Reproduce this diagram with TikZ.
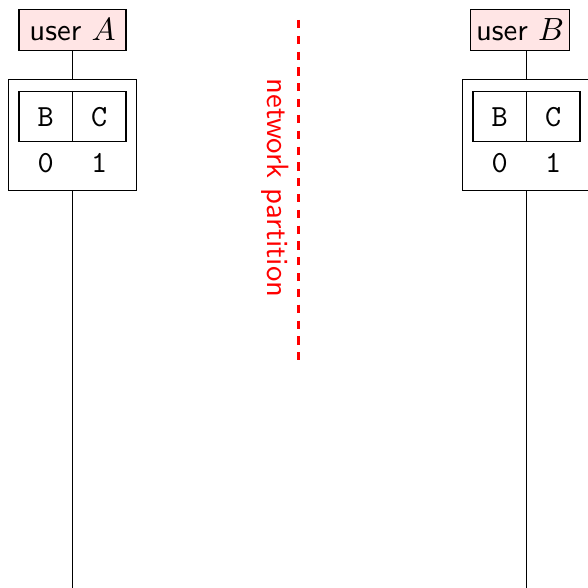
\documentclass[tikz,border=0pt]{standalone}
\usepackage{tikz}
\usetikzlibrary{positioning}

\begin{document}
\begin{tikzpicture}[
        user/.style={rectangle, draw, fill=red!10, font=\fontsize{10.5}{12.6}\sffamily, minimum height=0.49cm, inner sep=2pt},
        store/.style={rectangle, draw, minimum width=1.54cm, minimum height=1.33cm},
        cell/.style={rectangle, draw, outer sep=0pt, minimum width=0.642cm, minimum height=0.6cm, font=\fontsize{10.5}{12.6}\ttfamily},
        val/.style={font=\fontsize{10.5}{12.6}\ttfamily},
        cut/.style={red, line width=1pt, dash pattern=on 2.8pt off 2.6pt}
    ]
        \useasboundingbox (0,0) rectangle (7.056,-7.056);

        % User A
        \node[user, minimum width=1.284cm] (userA) at (0.87,-0.36) {user $A$};
        \node[store] (storeA) at (0.87,-1.624) {};
        \node[cell] (cellAB) at (0.549,-1.4) {B};
        \node[cell, right=0pt of cellAB] (cellAC) {C};
        \node[val] (valAB) at (0.549,-1.956) {0};
        \node[val] (valAC) at (1.191,-1.956) {1};
        \coordinate (endA) at (0.87,-7.056);
        \draw (userA) -- (storeA);
        \draw (storeA) -- (endA);

        % User B
        \node[user, minimum width=1.183cm] (userB) at (6.24,-0.36) {user $B$};
        \node[store] (storeB) at (6.318,-1.624) {};
        \node[cell] (cellBB) at (5.997,-1.4) {B};
        \node[cell, right=0pt of cellBB] (cellBC) {C};
        \node[val] (valBB) at (5.997,-1.956) {0};
        \node[val] (valBC) at (6.639,-1.956) {1};
        \coordinate (endB) at (6.318,-7.056);
        \draw (userB.south -| storeB.north) -- (storeB.north);
        \draw (storeB) -- (endB);

        % Network partition
        \coordinate (cutTop) at (3.584,-0.24);
        \coordinate (cutBot) at (3.584,-4.344);
        \draw[cut] (cutTop) -- (cutBot);
        \node[red, font=\fontsize{10.5}{12.6}\sffamily, rotate=-90] (cutLabel) at (3.3,-2.256) {network partition};
    \end{tikzpicture}
\end{document}
